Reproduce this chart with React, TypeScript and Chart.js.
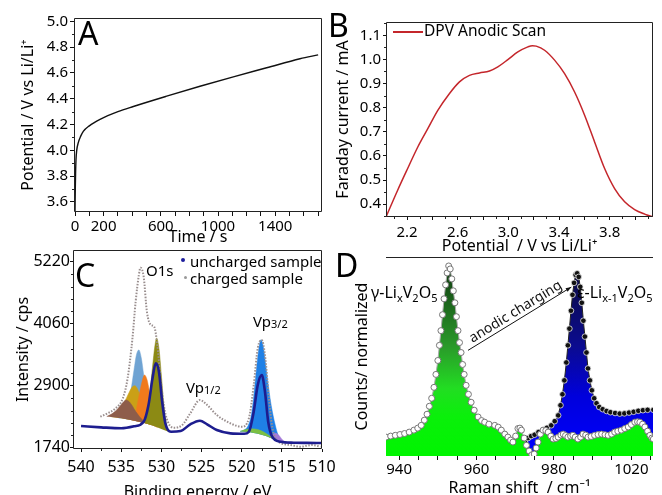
import React, { useEffect, useRef } from "react";
import { Chart, registerables } from "chart.js";

Chart.register(...registerables);

const FONT = "'Noto Sans', 'DejaVu Sans', sans-serif";

// ---------------- Panel A : potential vs time ----------------
const aTime = [0, 2, 4, 7, 12, 23, 40, 58, 100, 175, 300, 408, 641, 874, 1107, 1340, 1573, 1700];
const aPotential = [3.53, 3.7, 3.82, 3.93, 4.0, 4.06, 4.11, 4.147, 4.19, 4.24, 4.3, 4.34, 4.42, 4.497, 4.57, 4.64, 4.71, 4.74];
const aXTicks = [0, 100, 200, 300, 400, 500, 600, 700, 800, 900, 1000, 1100, 1200, 1300, 1400, 1500, 1600, 1700];
const aXLabels = [0, 200, 600, 1000, 1400];
const aYTicks = [3.6, 3.8, 4.0, 4.2, 4.4, 4.6, 4.8, 5.0];
const aYMinor = [3.7, 3.9, 4.1, 4.3, 4.5, 4.7, 4.9];

// ---------------- Panel B : DPV anodic scan ----------------
const bPotential = [2.034, 2.126, 2.205, 2.285, 2.364, 2.443, 2.534, 2.614, 2.693, 2.772, 2.851, 2.917, 2.996, 3.075, 3.154, 3.19, 3.22, 3.286, 3.365, 3.444, 3.523, 3.602, 3.681, 3.76, 3.839, 3.918, 3.997, 4.076, 4.142];
const bCurrent = [0.347, 0.458, 0.548, 0.637, 0.713, 0.789, 0.858, 0.907, 0.934, 0.944, 0.952, 0.969, 0.999, 1.031, 1.052, 1.057, 1.055, 1.038, 0.997, 0.941, 0.865, 0.769, 0.658, 0.548, 0.465, 0.41, 0.378, 0.359, 0.347];
const bXTicks = [2.2, 2.4, 2.6, 2.8, 3.0, 3.2, 3.4, 3.6, 3.8, 4.0];
const bXLabels = [2.2, 2.6, 3.0, 3.4, 3.8];
const bXMinor = [2.1, 2.3, 2.5, 2.7, 2.9, 3.1, 3.3, 3.5, 3.7, 3.9, 4.1];
const bYTicks = [0.4, 0.5, 0.6, 0.7, 0.8, 0.9, 1.0, 1.1];
const bYMinor = [0.35, 0.45, 0.55, 0.65, 0.75, 0.85, 0.95, 1.05, 1.15];

// ---------------- Panel C : XPS ----------------
const cUnchargedE = [540, 537.5, 535, 533.4, 532.2, 531.6, 531.1, 530.7, 530.3, 529.9, 529.5, 528.8, 527.6, 526.4, 525.2, 524.3, 523.1, 521.4, 519.7, 519.1, 518.5, 518, 517.5, 517.1, 516.7, 516.2, 515.2, 513.5, 511.9, 510];
const cUnchargedI = [2146, 2121, 2103, 2140, 2227, 2539, 3038, 3319, 3162, 2600, 2196, 2039, 2052, 2178, 2245, 2178, 2071, 2009, 2000, 2040, 2414, 2913, 3100, 2788, 2227, 1946, 1852, 1834, 1830, 1827];
const cChargedE = [537.6, 536.7, 535.7, 534.8, 534.2, 533.6, 533.2, 532.8, 532.6, 532.2, 531.8, 531.3, 530.9, 530.5, 530.1, 529.7, 529.2, 528.4, 527.4, 526.4, 525.2, 524.3, 523.1, 521.4, 520, 519.1, 518.5, 518, 517.5, 517.1, 516.6, 516.2, 515.4, 513.9, 512.7, 511.2, 510.2];
const cChargedI = [2320, 2383, 2477, 2664, 3038, 3787, 4472, 4971, 5108, 4939, 4284, 4036, 4004, 3662, 3038, 2539, 2227, 2114, 2165, 2383, 2632, 2539, 2352, 2196, 2133, 2290, 2913, 3600, 3755, 3475, 2664, 2133, 1852, 1790, 1759, 1790, 1759];
const cO1sBase = [[537.8, 2330], [536.5, 2320], [535, 2290], [533.5, 2250], [532, 2200], [531, 2150], [530, 2090], [529.2, 2045], [528.5, 2030]];
const cVBase = [[521, 2050], [520, 2045], [519, 2030], [518, 2000], [517, 1960], [516, 1900], [515, 1850], [514, 1830]];
const cBrown = [[536.8, 2325], [536.2, 2370], [535.6, 2440], [535.1, 2530], [534.7, 2600], [534.4, 2632], [534.0, 2600], [533.6, 2520], [533.2, 2420], [532.7, 2320], [532.2, 2240], [531.8, 2190]];
const cGold = [[536.2, 2320], [535.6, 2380], [535, 2480], [534.5, 2620], [534, 2780], [533.6, 2880], [533.3, 2900], [533, 2850], [532.6, 2700], [532.2, 2500], [531.8, 2330], [531.3, 2180]];
const cSteel = [[535.3, 2290], [534.7, 2360], [534.2, 2520], [533.8, 2800], [533.4, 3200], [533.1, 3480], [532.8, 3570], [532.5, 3420], [532.2, 3100], [531.9, 2750], [531.6, 2450], [531.2, 2250], [530.8, 2140]];
const cOrange = [[533.6, 2250], [533.2, 2400], [532.8, 2700], [532.4, 2980], [532.1, 3100], [531.8, 3020], [531.5, 2800], [531.2, 2500], [530.9, 2250], [530.5, 2110]];
const cOlive = [[532.2, 2200], [531.8, 2400], [531.4, 2800], [531.1, 3250], [530.8, 3650], [530.6, 3790], [530.3, 3600], [530, 3100], [529.7, 2550], [529.4, 2200], [529.1, 2045]];
const cVBlue = [[520.2, 2045], [519.6, 2080], [519.2, 2150], [518.8, 2350], [518.5, 2700], [518.2, 3150], [517.9, 3550], [517.6, 3760], [517.3, 3620], [517, 3280], [516.7, 2920], [516.4, 2600], [516.1, 2350], [515.8, 2150], [515.5, 1990], [515.1, 1870]];
const cVPurple = [[516.6, 1930], [516.2, 1985], [515.8, 2010], [515.4, 1980], [515, 1900], [514.6, 1850]];
const cVGreen = [[520.2, 2045], [519.5, 2080], [518.8, 2095], [518, 2080], [517.2, 2030], [516.5, 1960], [515.8, 1900]];
const cXTicks = [540, 535, 530, 525, 520, 515, 510];
const cXMinor = [537.5, 532.5, 527.5, 522.5, 517.5, 512.5];
const cYTicks = [1740, 2900, 4060, 5220];
const cYMinor = [1972, 2204, 2436, 2668, 3132, 3364, 3596, 3828, 4292, 4524, 4756, 4988];

// ---------------- Panel D : Raman ----------------
const dGamma = [
  [935.6, 0.09], [936.6, 0.095], [937.8, 0.1], [939, 0.104], [940.2, 0.108], [941.4, 0.113], [942.6, 0.12], [943.8, 0.13], [944.8, 0.14], [945.7, 0.154],
  [946.5, 0.18], [947.2, 0.21], [947.8, 0.25], [948.4, 0.29], [949.0, 0.345], [949.5, 0.41], [950.0, 0.48], [950.4, 0.556], [950.8, 0.63], [951.2, 0.71],
  [951.6, 0.79], [952.0, 0.86], [952.4, 0.92], [952.8, 0.955], [953.2, 0.94], [953.6, 0.89], [954.0, 0.83], [954.4, 0.77], [954.8, 0.7], [955.2, 0.63],
  [955.6, 0.57], [956.0, 0.52], [956.4, 0.46], [956.8, 0.41], [957.3, 0.355], [957.9, 0.31], [958.6, 0.27], [959.4, 0.23], [960.4, 0.196], [961.3, 0.178],
  [962.1, 0.17], [963.2, 0.16], [964.7, 0.154], [965.6, 0.145], [966.4, 0.13], [967.3, 0.11], [968.1, 0.095], [968.8, 0.08], [969.4, 0.07], [970.1, 0.1],
  [970.7, 0.138], [971.2, 0.14], [971.6, 0.13], [972.3, 0.09], [972.9, 0.054], [973.6, 0.025], [974.3, 0.006], [974.9, 0.01], [975.4, 0.04], [975.9, 0.07],
  [976.5, 0.11], [977.2, 0.13], [977.9, 0.128], [978.5, 0.12], [979.2, 0.1], [979.8, 0.085], [980.5, 0.088], [981.1, 0.095], [981.8, 0.105], [982.4, 0.11],
  [983.0, 0.103], [983.6, 0.095], [984.3, 0.1], [984.9, 0.104], [985.5, 0.095], [986.2, 0.085], [986.9, 0.095], [987.5, 0.11], [988.2, 0.105], [988.8, 0.095],
  [989.6, 0.098], [990.5, 0.104], [991.4, 0.108], [992.3, 0.11], [993.2, 0.107], [994, 0.104], [994.9, 0.11], [995.7, 0.12], [996.5, 0.125], [997.4, 0.13],
  [998.3, 0.138], [999.2, 0.146], [1000, 0.158], [1000.9, 0.17], [1001.6, 0.172], [1002.2, 0.17], [1002.9, 0.16], [1003.5, 0.146], [1004.2, 0.125], [1004.8, 0.104],
  [1005.3, 0.09], [1005.7, 0.085],
];
const dEpsilon = [
  [972.5, 0.07], [973.3, 0.09], [974.1, 0.1], [975, 0.107], [976, 0.12], [977.2, 0.13], [978.2, 0.142], [979.3, 0.154], [980.2, 0.175], [981.1, 0.204],
  [981.7, 0.255], [982.2, 0.31], [982.7, 0.38], [983.2, 0.47], [983.6, 0.556], [984.0, 0.64], [984.4, 0.73], [984.8, 0.81], [985.2, 0.87], [985.6, 0.91],
  [986.0, 0.918], [986.4, 0.9], [986.8, 0.85], [987.2, 0.77], [987.6, 0.68], [988.0, 0.6], [988.4, 0.52], [988.8, 0.44], [989.3, 0.38], [989.8, 0.33],
  [990.4, 0.29], [991.0, 0.265], [991.7, 0.246], [992.6, 0.235], [993.6, 0.226], [994.6, 0.22], [995.8, 0.216], [997, 0.213], [998.2, 0.214], [999.4, 0.218],
  [1000.6, 0.222], [1001.8, 0.227], [1003, 0.23], [1004.2, 0.232], [1005.7, 0.232],
];
const dXTicks = [940, 945, 950, 955, 960, 965, 970, 975, 980, 985, 990, 995, 1000, 1005];
const dXLabelValues = [940, 960, 980, 1000];
const dXLabelTexts = ["940", "960", "980", "1020"];
const dArrowFrom = [957.8, 0.531];
const dArrowTo = [984.5, 0.849];

// ---------------- helpers ----------------
const near = (a: number, b: number) => Math.abs(a - b) < 1e-6;
const pts = (xs: number[], ys: number[]) => xs.map((x, i) => ({ x, y: ys[i] }));
const pairs = (p: number[][]) => p.map(([x, y]) => ({ x, y }));

function mkScale(o: any) {
  return {
    type: "linear",
    min: o.min,
    max: o.max,
    reverse: !!o.reverse,
    afterBuildTicks: (s: any) => {
      s.ticks = o.ticks.map((v: number) => ({ value: v }));
    },
    afterFit: (s: any) => {
      if (o.horizontal) s.height = o.size;
      else s.width = o.size;
      s.paddingLeft = 0;
      s.paddingRight = 0;
      s.paddingTop = 0;
      s.paddingBottom = 0;
    },
    grid: {
      display: o.grid !== false,
      drawOnChartArea: false,
      drawTicks: true,
      tickLength: o.tickLen ?? 4,
      tickColor: "#111",
      tickWidth: 1,
      color: "#111",
    },
    border: { display: false },
    ticks: {
      display: o.showTicks !== false,
      autoSkip: false,
      maxRotation: 0,
      minRotation: 0,
      padding: o.tickPad ?? 2,
      color: "#000",
      font: { family: FONT, size: o.fontSize ?? 15 },
      callback: (v: any) => o.label(Number(v)),
    },
    title: {
      display: true,
      text: o.title,
      color: "#000",
      font: { family: FONT, size: 16, lineHeight: 1 },
      padding: o.titlePad,
    },
  };
}

const framePlugin = {
  id: "frame",
  afterDatasetsDraw(chart: any, _a: any, opts: any) {
    if (!opts || !opts.arrowFrom) return;
    const { ctx, scales } = chart;
    const x1 = scales.x.getPixelForValue(opts.arrowFrom[0]);
    const y1 = scales.y.getPixelForValue(opts.arrowFrom[1]);
    const x2 = scales.x.getPixelForValue(opts.arrowTo[0]);
    const y2 = scales.y.getPixelForValue(opts.arrowTo[1]);
    const ang = Math.atan2(y2 - y1, x2 - x1);
    ctx.save();
    ctx.strokeStyle = "#111";
    ctx.fillStyle = "#111";
    ctx.lineWidth = 1;
    ctx.beginPath();
    ctx.moveTo(x1, y1);
    ctx.lineTo(x2, y2);
    ctx.stroke();
    ctx.beginPath();
    ctx.moveTo(x2, y2);
    ctx.lineTo(x2 - 6 * Math.cos(ang - 0.35), y2 - 6 * Math.sin(ang - 0.35));
    ctx.lineTo(x2 - 6 * Math.cos(ang + 0.35), y2 - 6 * Math.sin(ang + 0.35));
    ctx.closePath();
    ctx.fill();
    ctx.translate((x1 + x2) / 2, (y1 + y2) / 2);
    ctx.rotate(ang);
    ctx.font = `14px ${FONT}`;
    ctx.textAlign = "center";
    ctx.textBaseline = "alphabetic";
    ctx.fillText(opts.arrowText, 0, -4);
    ctx.restore();
  },
  afterDraw(chart: any, _a: any, opts: any) {
    if (!opts) return;
    const { ctx, chartArea: a, scales } = chart;
    ctx.save();
    ctx.strokeStyle = "#222";
    ctx.lineWidth = 1;
    const L = Math.round(a.left) + 0.5;
    const R = Math.round(a.right) - 0.5;
    const T = Math.round(a.top) + 0.5;
    const B = Math.round(a.bottom) - 0.5;
    if (opts.box) {
      ctx.beginPath();
      ctx.rect(L, T, R - L, B - T);
      ctx.stroke();
    }
    if (opts.topLine) {
      ctx.beginPath();
      ctx.moveTo(a.left, T);
      ctx.lineTo(a.right, T);
      ctx.stroke();
    }
    const len = opts.minorLen || 2;
    ctx.beginPath();
    (opts.minorX || []).forEach((v: number) => {
      const x = Math.round(scales.x.getPixelForValue(v)) + 0.5;
      ctx.moveTo(x, a.bottom);
      ctx.lineTo(x, a.bottom + len);
    });
    (opts.minorY || []).forEach((v: number) => {
      const y = Math.round(scales.y.getPixelForValue(v)) + 0.5;
      ctx.moveTo(a.left - len, y);
      ctx.lineTo(a.left, y);
    });
    ctx.stroke();
    ctx.restore();
  },
};

const baseOptions = (padding: any, frame: any, scales: any) => ({
  responsive: false,
  animation: false,
  devicePixelRatio: 1,
  layout: { padding },
  plugins: { legend: { display: false }, tooltip: { enabled: false }, frame },
  scales,
});

// ---------------- chart configs ----------------
const makeA = () => ({
  type: "line",
  data: {
    datasets: [
      {
        data: pts(aTime, aPotential),
        borderColor: "#111",
        borderWidth: 1.4,
        pointRadius: 0,
        cubicInterpolationMode: "monotone",
        fill: false,
      },
    ],
  },
  options: baseOptions(
    { top: 18, right: 9, left: 0, bottom: 0 },
    { box: true, minorY: aYMinor, minorLen: 2 },
    {
      x: mkScale({
        min: -7, max: 1727, ticks: aXTicks, horizontal: true, size: 33, tickLen: 4, tickPad: 2,
        label: (v: number) => (aXLabels.some((l) => near(l, v)) ? String(v) : ""),
        title: "Time / s", titlePad: { top: 0, bottom: 0 },
      }),
      y: mkScale({
        min: 3.522, max: 5.026, ticks: aYTicks, horizontal: false, size: 74, tickLen: 4, tickPad: 2,
        label: (v: number) => v.toFixed(1),
        title: "Potential / V vs Li/Li⁺", titlePad: { top: 20, bottom: 0 },
      }),
    }
  ),
  plugins: [framePlugin],
});

const makeB = () => ({
  type: "line",
  data: {
    datasets: [
      {
        data: pts(bPotential, bCurrent),
        borderColor: "#c4262b",
        borderWidth: 1.5,
        pointRadius: 0,
        cubicInterpolationMode: "monotone",
        fill: false,
      },
    ],
  },
  options: baseOptions(
    { top: 22, right: 9, left: 0, bottom: 0 },
    { box: true, minorX: bXMinor, minorY: bYMinor, minorLen: 2 },
    {
      x: mkScale({
        min: 2.034, max: 4.142, ticks: bXTicks, horizontal: true, size: 35, tickLen: 3, tickPad: 4,
        label: (v: number) => (bXLabels.some((l) => near(l, v)) ? v.toFixed(1) : ""),
        title: "Potential  / V vs Li/Li⁺", titlePad: { top: 0, bottom: -2 },
      }),
      y: mkScale({
        min: 0.347, max: 1.155, ticks: bYTicks, horizontal: false, size: 55, tickLen: 3, tickPad: 2,
        label: (v: number) => v.toFixed(1),
        title: "Faraday current / mA", titlePad: { top: 4, bottom: 0 },
      }),
    }
  ),
  plugins: [framePlugin],
});

const comp = (data: number[][], color: string, target: number, order: number) => ({
  data: pairs(data),
  borderColor: color,
  borderWidth: 0.5,
  backgroundColor: color,
  pointRadius: 0,
  fill: target,
  order,
  cubicInterpolationMode: "monotone",
});

const makeC = () => ({
  type: "line",
  data: {
    datasets: [
      { data: pairs(cO1sBase), borderWidth: 0, borderColor: "rgba(0,0,0,0)", pointRadius: 0, fill: false, order: 30 },
      { data: pairs(cVBase), borderWidth: 0, borderColor: "rgba(0,0,0,0)", pointRadius: 0, fill: false, order: 30 },
      comp(cSteel, "#6fa3d3", 0, 9),
      comp(cGold, "#caa017", 0, 8),
      comp(cOrange, "#f07a1c", 0, 7),
      comp(cBrown, "#8e5d4a", 0, 6),
      comp(cOlive, "#8c8a14", 0, 5),
      comp(cVBlue, "#1f80e6", 1, 9),
      comp(cVPurple, "#a57ad8", 1, 6),
      comp(cVGreen, "#7cc043", 1, 5),
      {
        data: pts(cChargedE, cChargedI),
        borderColor: "#9a8f8f",
        borderWidth: 2,
        borderDash: [1.5, 1.5],
        pointRadius: 0,
        fill: false,
        order: 2,
        cubicInterpolationMode: "monotone",
      },
      {
        data: pts(cUnchargedE, cUnchargedI),
        borderColor: "#1d1d8f",
        borderWidth: 2.6,
        pointRadius: 0,
        fill: false,
        order: 1,
        cubicInterpolationMode: "monotone",
      },
    ],
  },
  options: baseOptions(
    { top: 5, right: 23, left: 0, bottom: 0 },
    { box: true, minorX: cXMinor, minorY: cYMinor, minorLen: 2 },
    {
      x: mkScale({
        min: 510, max: 541, reverse: true, ticks: cXTicks, horizontal: true, size: 46, tickLen: 3, tickPad: 6, fontSize: 16,
        label: (v: number) => String(v),
        title: "Binding energy / eV", titlePad: { top: 0, bottom: -5 },
      }),
      y: mkScale({
        min: 1716, max: 5439, ticks: cYTicks, horizontal: false, size: 73, tickLen: 3, tickPad: 0, fontSize: 16,
        label: (v: number) => String(v),
        title: "Intensity / cps", titlePad: { top: 15, bottom: 0 },
      }),
    }
  ),
  plugins: [framePlugin],
});

const gradientFill = (stops: [number, string][], fallback: string) => (c: any) => {
  const chart = c.chart;
  const a = chart.chartArea;
  if (!a) return fallback;
  const g = chart.ctx.createLinearGradient(0, a.top, 0, a.bottom);
  stops.forEach(([p, col]) => g.addColorStop(p, col));
  return g;
};

const makeD = () => ({
  type: "line",
  data: {
    datasets: [
      {
        data: pairs(dEpsilon),
        borderColor: "#222",
        borderWidth: 1,
        backgroundColor: gradientFill(
          [[0, "#090930"], [0.1, "#0b0b48"], [0.45, "#0b0b90"], [0.7, "#0000dc"], [1, "#0000ff"]],
          "#0000cc"
        ),
        fill: "origin",
        pointRadius: 2.8,
        pointBackgroundColor: "#111",
        pointBorderColor: "#e8e8e8",
        pointBorderWidth: 0.8,
        order: 2,
      },
      {
        data: pairs(dGamma),
        borderColor: "#aaa",
        borderWidth: 1,
        backgroundColor: gradientFill(
          [[0, "#0e350e"], [0.08, "#134213"], [0.45, "#2a9a2a"], [0.66, "#22dd22"], [0.8, "#0af00a"], [1, "#00f500"]],
          "#22cc22"
        ),
        fill: "origin",
        pointRadius: 3,
        pointBackgroundColor: "#ffffff",
        pointBorderColor: "#777",
        pointBorderWidth: 1,
        order: 1,
      },
    ],
  },
  options: baseOptions(
    { top: 7, right: 9, left: 0, bottom: 0 },
    {
      topLine: true,
      arrowFrom: dArrowFrom,
      arrowTo: dArrowTo,
      arrowText: "anodic charging",
    },
    {
      x: mkScale({
        min: 936.6, max: 1005.6, ticks: dXTicks, horizontal: true, size: 39, tickLen: 4, tickPad: 1,
        label: (v: number) => {
          const i = dXLabelValues.findIndex((l) => near(l, v));
          return i >= 0 ? dXLabelTexts[i] : "";
        },
        title: "Raman shift  / cm⁻¹", titlePad: { top: 0, bottom: -1 },
      }),
      y: mkScale({
        min: 0, max: 1, ticks: [], horizontal: false, size: 55, grid: false, showTicks: false,
        label: () => "",
        title: "Counts/ normalized", titlePad: { top: 23, bottom: 0 },
      }),
    }
  ),
  plugins: [framePlugin],
});

// ---------------- components ----------------
function ChartBox({ make, left, top, width, height }: any) {
  const ref = useRef<HTMLCanvasElement>(null);
  useEffect(() => {
    const chart = new Chart(ref.current as HTMLCanvasElement, make());
    return () => chart.destroy();
  }, []);
  return (
    <canvas
      ref={ref}
      width={width}
      height={height}
      style={{ position: "absolute", left, top, width, height }}
    />
  );
}

function Txt({ x, base, size, children }: any) {
  return (
    <div
      style={{
        position: "absolute",
        left: x,
        top: base - 0.888 * size,
        fontSize: size,
        lineHeight: 1,
        whiteSpace: "nowrap",
        color: "#000",
        fontFamily: FONT,
      }}
    >
      {children}
    </div>
  );
}

const Sub = ({ children, size = 11, drop = 4 }: any) => (
  <span style={{ fontSize: size, position: "relative", top: drop }}>{children}</span>
);

export default function App() {
  return (
    <div
      style={{
        position: "fixed",
        left: 0,
        top: 0,
        width: 662,
        height: 495,
        background: "#fff",
        overflow: "hidden",
        fontFamily: FONT,
      }}
    >
      <ChartBox make={makeA} left={0} top={0} width={331} height={245} />
      <ChartBox make={makeB} left={331} top={0} width={331} height={252} />
      <ChartBox make={makeC} left={0} top={245} width={345} height={250} />
      <ChartBox make={makeD} left={331} top={250} width={331} height={245} />

      <Txt x={78} base={45} size={32}>A</Txt>
      <Txt x={328} base={37} size={32}>B</Txt>
      <Txt x={75} base={287} size={32}>C</Txt>
      <Txt x={335} base={277} size={32}>D</Txt>

      {/* Panel B legend */}
      <div style={{ position: "absolute", left: 393, top: 31, width: 30, height: 1.5, background: "#c4262b" }} />
      <Txt x={424} base={36.7} size={15.5}>DPV Anodic Scan</Txt>

      {/* Panel C labels and legend */}
      <Txt x={146} base={276} size={15}>O1s</Txt>
      <div style={{ position: "absolute", left: 180.5, top: 258, width: 4, height: 4, borderRadius: 2, background: "#1d1d9c" }} />
      <Txt x={190} base={267.5} size={15}>uncharged sample</Txt>
      <div style={{ position: "absolute", left: 184, top: 276, width: 2.5, height: 2.5, borderRadius: 1.5, background: "#999" }} />
      <Txt x={190} base={284} size={15}>charged sample</Txt>
      <Txt x={253} base={327} size={15}>Vp<Sub size={11} drop={1}>3/2</Sub></Txt>
      <Txt x={186} base={393} size={15}>Vp<Sub size={11} drop={1}>1/2</Sub></Txt>

      {/* Panel D labels */}
      <Txt x={371} base={298} size={16}>
        γ-Li<Sub>x</Sub>V<Sub>2</Sub>O<Sub>5</Sub>
      </Txt>
      <Txt x={577} base={298} size={16}>
        ε-Li<Sub>x-1</Sub>V<Sub>2</Sub>O<Sub>5</Sub>
      </Txt>
    </div>
  );
}
